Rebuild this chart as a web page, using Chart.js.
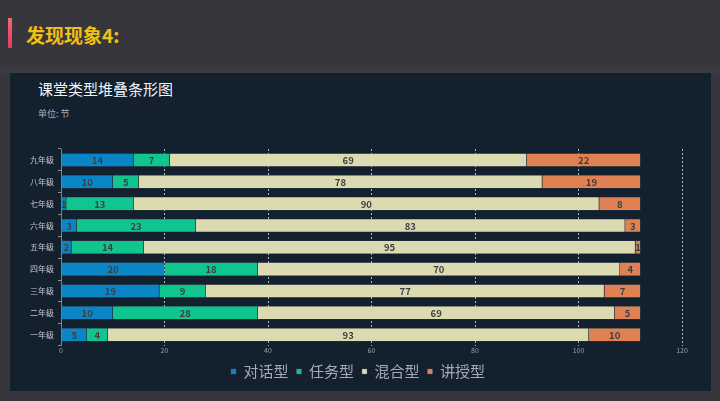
<!DOCTYPE html>
<html>
<head>
<meta charset="utf-8">
<script src="https://cdn.jsdelivr.net/npm/chart.js@4/dist/chart.umd.min.js"></script>
<style>
  html, body { margin: 0; padding: 0; }
  body { width: 720px; height: 401px; background: #38363d; position: relative; overflow: hidden; font-family: "Noto Sans CJK SC", "Noto Sans", sans-serif; }
  .accent { position: absolute; left: 8px; top: 18px; width: 4px; height: 30px; background: linear-gradient(#f26a6a, #e8356e); }
  .head { position: absolute; left: 26px; top: 20px; font-size: 19px; font-weight: bold; color: #f2c012; line-height: 30px; }
  .strip { position: absolute; left: 0; top: 67px; width: 720px; height: 6px; background: #3c3b42; }
  .panel { position: absolute; left: 10px; top: 73px; width: 701px; height: 318px; background: #13202e; }
  .title { position: absolute; left: 28px; top: 5px; font-size: 15px; color: #f2f4f6; line-height: 22px; }
  .unit { position: absolute; left: 28px; top: 35px; font-size: 9px; color: #a9adb3; line-height: 12px; }
  .wrap { position: absolute; left: 0; top: 67px; width: 701px; height: 251px; }
</style>
</head>
<body>
<div class="accent"></div>
<div class="head">发现现象4:</div>
<div class="strip"></div>
<div class="panel">
  <div class="title">课堂类型堆叠条形图</div>
  <div class="unit">单位: 节</div>
  <div class="wrap"><canvas id="barChart" width="701" height="251"></canvas></div>
</div>
<script>
const grades = ['九年级', '八年级', '七年级', '六年级', '五年级', '四年级', '三年级', '二年级', '一年级'];
const duihua = [14, 10, 1, 3, 2, 20, 19, 10, 5];
const renwu = [7, 5, 13, 23, 14, 18, 9, 28, 4];
const hunhe = [69, 78, 90, 83, 95, 70, 77, 69, 93];
const jiangshou = [22, 19, 8, 3, 1, 4, 7, 5, 10];
const xTicks = [0, 20, 40, 60, 80, 100, 120];

const font = '"Noto Sans CJK SC", "Noto Sans", sans-serif';

// numbers inside every segment
const segLabels = {
  id: 'segLabels',
  afterDatasetsDraw(chart) {
    const ctx = chart.ctx;
    ctx.save();
    ctx.font = 'bold 9.5px ' + font;
    ctx.fillStyle = '#3b3f44';
    ctx.textAlign = 'center';
    ctx.textBaseline = 'middle';
    chart.data.datasets.forEach((ds, i) => {
      chart.getDatasetMeta(i).data.forEach((bar, j) => {
        const p = bar.getProps(['x', 'base', 'y'], true);
        ctx.fillText(ds.data[j], (p.x + p.base) / 2, p.y + 0.5);
      });
    });
    ctx.restore();
  }
};

function ds(label, data, color) {
  return {
    label: label,
    data: data,
    backgroundColor: color,
    borderColor: 'rgba(90,100,110,0.6)',
    borderWidth: 0.5,
    barPercentage: 0.62,
    categoryPercentage: 1
  };
}

new Chart(document.getElementById('barChart'), {
  type: 'bar',
  data: {
    labels: grades,
    datasets: [
      ds('对话型', duihua, '#0a86c6'),
      ds('任务型', renwu, '#10c68e'),
      ds('混合型', hunhe, '#dcdab0'),
      ds('讲授型', jiangshou, '#df8152')
    ]
  },
  options: {
    indexAxis: 'y',
    responsive: false,
    animation: false,
    layout: { padding: { top: 9, right: 5, left: 0, bottom: 2 } },
    scales: {
      x: {
        stacked: true,
        min: 0,
        max: 120,
        afterBuildTicks: s => { s.ticks = xTicks.map(v => ({ value: v })); },
        afterFit: s => { s.paddingRight = 29; },
        grid: { color: 'rgba(230,235,240,0.75)', drawTicks: false, tickLength: 0 },
        border: { display: false, dash: [2, 2] },
        ticks: { color: '#9aa0a8', font: { family: font, size: 7 }, padding: 1 }
      },
      y: {
        stacked: true,
        afterFit: s => { s.width = 51; },
        grid: { drawOnChartArea: false, color: '#8a9098', tickLength: 3 },
        border: { display: true, color: '#7d838b' },
        ticks: { color: '#c4c8cd', font: { family: font, size: 8 }, padding: 4 }
      }
    },
    plugins: {
      legend: {
        position: 'bottom',
        labels: {
          color: '#a6abb3',
          font: { family: font, size: 15 },
          boxWidth: 5,
          boxHeight: 5,
          padding: 8
        }
      },
      tooltip: { enabled: false }
    }
  },
  plugins: [segLabels]
});
</script>
</body>
</html>
